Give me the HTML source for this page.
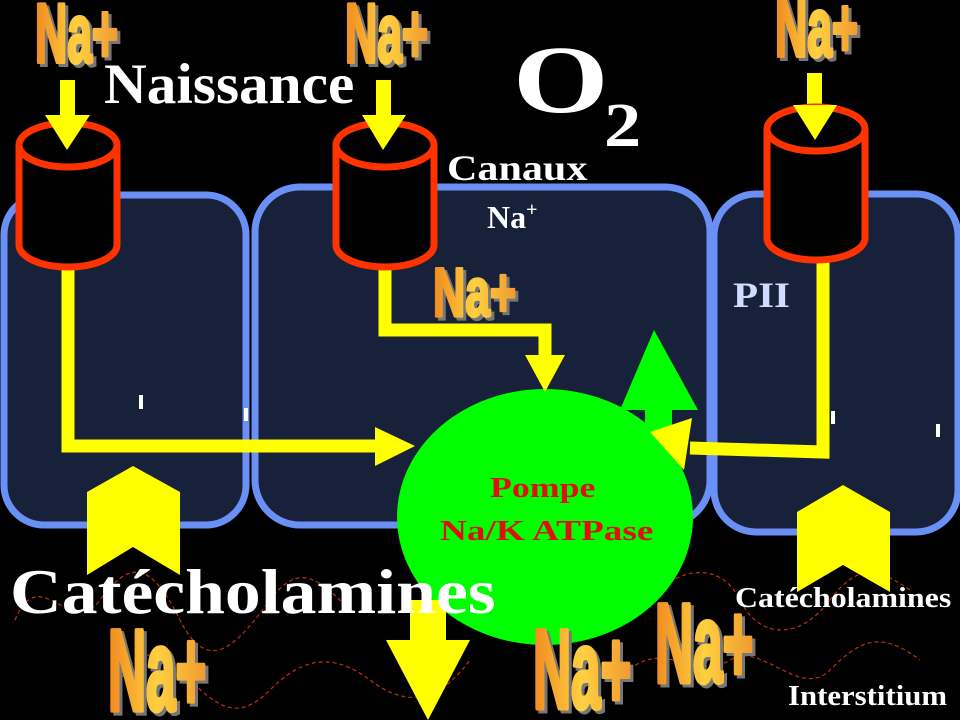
<!DOCTYPE html>
<html><head><meta charset="utf-8"><style>
html,body{margin:0;padding:0;background:#000;}
svg{display:block}
.na{font-family:"Liberation Sans Narrow","Liberation Sans",sans-serif;font-weight:bold;fill:url(#og);stroke:url(#og);stroke-width:3;stroke-linejoin:round}
.sh{font-family:"Liberation Sans Narrow","Liberation Sans",sans-serif;font-weight:bold;fill:#777;stroke:#777;stroke-width:3}
.w{font-family:"Liberation Serif",serif;font-weight:bold;fill:#fff}
.r{font-family:"Liberation Serif",serif;font-weight:bold;fill:#e01010}
</style></head><body>
<svg width="960" height="720" viewBox="0 0 960 720" xmlns="http://www.w3.org/2000/svg">
<defs>
<linearGradient id="og" x1="0" y1="0" x2="1" y2="0">
<stop offset="0" stop-color="#f08a20"/><stop offset="0.5" stop-color="#ffd040"/><stop offset="1" stop-color="#f09a30"/>
</linearGradient>
</defs>
<rect width="960" height="720" fill="#000"/>
<rect x="4" y="195" width="242" height="330" rx="40" fill="#17213a" stroke="#6a8ff5" stroke-width="7"/>
<rect x="255" y="187" width="455" height="338" rx="45" fill="#17213a" stroke="#6a8ff5" stroke-width="7"/>
<rect x="714" y="194" width="244" height="338" rx="42" fill="#17213a" stroke="#6a8ff5" stroke-width="7"/>
<g fill="none" stroke="#c03010" stroke-width="1.2" stroke-dasharray="4,3">
<path d="M15,620 C40,560 70,640 100,600 S150,560 180,620 S240,640 270,600 S320,580 350,610"/>
<path d="M115,690 C140,640 160,650 190,680 S240,720 270,690 S330,650 370,680 S440,700 470,660"/>
<path d="M600,600 C620,580 640,610 660,590 S720,560 740,600 S800,640 830,600 S880,570 910,590"/>
<path d="M630,670 C660,640 700,680 730,660 S800,700 830,670 S880,630 920,660"/>
</g>
<ellipse cx="545" cy="517" rx="148" ry="128" fill="#00ff00"/>
<polygon points="654,330 698,410 672,410 672,440 645,440 645,410 620,410" fill="#00ff00"/>
<g fill="none" stroke="#ffff00" stroke-width="13" stroke-linejoin="miter">
<polyline points="68,262 68,446 380,446"/>
<polyline points="385,262 385,330 545,330 545,360"/>
<polyline points="823,255 823,452 690,448"/>
</g>
<polygon points="375,427 415,446 375,466" fill="#ffff00"/>
<polygon points="525,355 565,355 545,392" fill="#ffff00"/>
<polygon points="692,418 650,432 684,470" fill="#ffff00"/>
<g fill="#ffff00">
<rect x="60" y="80" width="15" height="40"/>
<rect x="376" y="80" width="15" height="40"/>
<rect x="807" y="73" width="15" height="40"/>
</g>
<g fill="#000" stroke="#ff3300" stroke-width="7">
<path d="M19,145 L19,245 A49,22 0 0 0 117,245 L117,145"/>
<ellipse cx="68" cy="145" rx="49" ry="22"/>
<path d="M336,145 L336,245 A49,22 0 0 0 434,245 L434,145"/>
<ellipse cx="385" cy="145" rx="49" ry="22"/>
<path d="M767,129 L767,238 A49,22 0 0 0 865,238 L865,129"/>
<ellipse cx="816" cy="129" rx="49" ry="22"/>
</g>
<g fill="#ffff00">
<polygon points="45,115 90,115 67,150"/>
<polygon points="362,115 406,115 383,150"/>
<polygon points="793,105 837,105 815,140"/>
</g>
<polygon points="87,492 133,466 180,492 180,575 133,547 87,575" fill="#ffff00"/>
<polygon points="797,512 843,485 890,512 890,592 843,565 797,592" fill="#ffff00"/>
<polygon points="410,600 446,600 446,640 470,640 428,720 386,640 410,640" fill="#ffff00"/>
<g fill="#fff"><rect x="139" y="395" width="4" height="14"/><rect x="244" y="408" width="4" height="13"/><rect x="831" y="411" width="4" height="13"/><rect x="936" y="424" width="4" height="13"/></g>
<g class="sh">
<text transform="translate(38,65) scale(0.72,1.35)" font-size="62">Na+</text>
<text transform="translate(348,65) scale(0.72,1.35)" font-size="62">Na+</text>
<text transform="translate(778,59) scale(0.72,1.35)" font-size="62">Na+</text>
<text transform="translate(436,319) scale(0.72,1.1)" font-size="62">Na+</text>
<text transform="translate(111,713) scale(0.8,1.75)" font-size="66">Na+</text>
<text transform="translate(536,711) scale(0.8,1.7)" font-size="66">Na+</text>
<text transform="translate(658,685) scale(0.8,1.7)" font-size="66">Na+</text>
</g>
<g class="na">
<text transform="translate(35,62) scale(0.72,1.35)" font-size="62">Na+</text>
<text transform="translate(345,62) scale(0.72,1.35)" font-size="62">Na+</text>
<text transform="translate(775,56) scale(0.72,1.35)" font-size="62">Na+</text>
<text transform="translate(433,316) scale(0.72,1.1)" font-size="62">Na+</text>
<text transform="translate(108,710) scale(0.8,1.75)" font-size="66">Na+</text>
<text transform="translate(533,708) scale(0.8,1.7)" font-size="66">Na+</text>
<text transform="translate(655,682) scale(0.8,1.7)" font-size="66">Na+</text>
</g>
<text class="w" transform="translate(104,103) scale(1.04,1)" font-size="57">Naissance</text>
<text class="w" transform="translate(513,112) scale(1.28,1)" font-size="96">O</text>
<text class="w" transform="translate(604,146) scale(1.2,1)" font-size="62">2</text>
<text class="w" transform="translate(447,180) scale(1.17,1)" font-size="36">Canaux</text>
<text class="w" x="487" y="228" font-size="32">Na<tspan font-size="20" dy="-12">+</tspan></text>
<text transform="translate(733,307) scale(1.14,1)" font-size="36" font-family="Liberation Serif,serif" font-weight="bold" fill="#d0dcff">PII</text>
<text class="r" transform="translate(490,497) scale(1.28,1)" font-size="28">Pompe</text>
<text class="r" transform="translate(440,540) scale(1.33,1)" font-size="28">Na/K ATPase</text>
<text class="w" transform="translate(10,613) scale(1.12,1)" font-size="64">Catécholamines</text>
<text class="w" transform="translate(735,607) scale(1.14,1)" font-size="28">Catécholamines</text>
<text class="w" transform="translate(788,705) scale(1.1,1)" font-size="28">Interstitium</text>
</svg>
</body></html>
